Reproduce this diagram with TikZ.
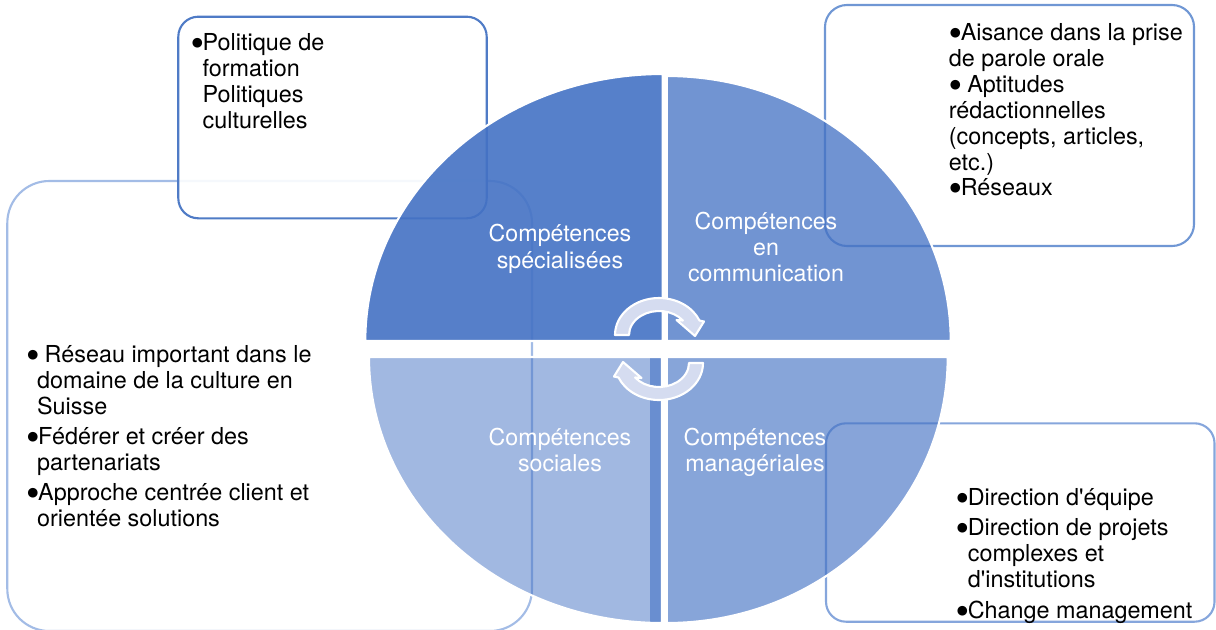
\documentclass[tikz,border=0pt]{standalone}
\usepackage{fontspec}
\setmainfont{TeX Gyre Heros}
\newfontfamily\bulletfont{DejaVu Sans}
\newcommand\blt{\makebox[6.2pt][l]{\raisebox{1.9pt}{\bulletfont\fontsize{7.2}{9}\selectfont ●}}}

\definecolor{accent}{HTML}{4472C4}
\definecolor{lavender}{HTML}{D5DCF0}
\definecolor{tledge}{HTML}{4F7BC6}
\definecolor{tredge}{HTML}{7097D4}
\definecolor{leftedge}{HTML}{A3BCE6}
\definecolor{bredge}{HTML}{86A6DC}

\tikzset{
  textbox/.style={line width=1.2pt, fill=white},
  quarter/.style={fill=accent, draw=white, line width=1.2pt},
  qlabel/.style={text=white, font=\fontsize{13.2}{15}\selectfont, anchor=base, inner sep=0pt},
  itemtext/.style={font=\fontsize{13.3}{15}\selectfont, anchor=base west, inner sep=0pt},
  arrowband/.style={fill=lavender, draw=white, line width=1.2pt, line join=round},
  pics/cyclearrow/.style={code={
    \filldraw[arrowband] (-30,0) -- (-44,0)
      arc[start angle=180, end angle=336.9, x radius=44, y radius=37]
      -- (45,-13.5) -- (36,1) -- (17.5,-15) -- (23.9,-14.5)
      arc[start angle=322.8, end angle=180, x radius=30, y radius=24] -- cycle;
  }}
}

\begin{document}
\begin{tikzpicture}[x=0.02cm, y=-0.02cm]
\useasboundingbox (0,0) rectangle (1216,629);

% boxes behind the quadrants
\draw[textbox, draw=leftedge, rounded corners=0.84cm] (7.3,181) rectangle (532,631);
\draw[textbox, draw=tledge, fill opacity=0.9, rounded corners=0.4cm] (178.3,16.7) rectangle (486.7,218.3);
\draw[textbox, draw=tredge, rounded corners=0.44cm] (825,5) rectangle (1194,246);
\draw[textbox, draw=bredge, rounded corners=0.4cm] (826,423.3) rectangle (1214.5,621.7);

% quadrants
\path[quarter, fill opacity=0.9] (662.7,341) -- (365.3,341)
  arc[start angle=180, end angle=270, x radius=297.4, y radius=267] -- cycle;
\path[quarter, fill opacity=0.76] (666.7,341) -- (666.7,76)
  arc[start angle=270, end angle=360, x radius=284, y radius=265] -- cycle;
\path[quarter, fill opacity=0.64] (666.7,357) -- (947.7,357)
  arc[start angle=0, end angle=90, x radius=281, y radius=266] -- cycle;
\fill[accent, fill opacity=0.6] (650,358) rectangle (662,623);
\path[quarter, fill opacity=0.5] (662,357) -- (662,623)
  arc[start angle=90, end angle=180, x radius=293, y radius=266] -- cycle;

% quadrant labels
\node[qlabel] (spec1) at (560,241) {Compétences};
\node[qlabel] (spec2) at (560,268) {spécialisées};
\node[qlabel] (comm1) at (766,229) {Compétences};
\node[qlabel] (comm2) at (766,255) {en};
\node[qlabel] (comm3) at (766,281) {communication};
\node[qlabel] (soc1) at (560,445) {Compétences};
\node[qlabel] (soc2) at (560,471) {sociales};
\node[qlabel] (man1) at (755,445) {Compétences};
\node[qlabel] (man2) at (755,471) {managériales};

% cycle arrows
\pic at (659,335) {cyclearrow};
\pic[rotate=180] at (659,363) {cyclearrow};

% box texts
\foreach \x/\y/\t [count=\i] in {191.5/50/{\blt Politique de}, 202.3/76/{formation},
    202.3/102/{Politiques}, 202.3/128/{culturelles}}
  \node[itemtext] (tl-\i) at (\x,\y) {\t};

\foreach \x/\y/\t [count=\i] in {949.5/40/{\blt Aisance dans la prise}, 948.5/66/{de parole orale},
    949.5/92/{\blt\ Aptitudes}, 948.5/118/{rédactionnelles}, 948.5/144/{(concepts, articles,},
    948.5/170/{etc.)}, 949.5/195/{\blt Réseaux}}
  \node[itemtext] (tr-\i) at (\x,\y) {\t};

\foreach \x/\y/\t [count=\i] in {27/362/{\blt\ Réseau important dans le}, 36.8/388/{domaine de la culture en},
    36.8/414/{Suisse}, 27/444/{\blt Fédérer et créer des}, 36.8/470/{partenariats},
    27/500/{\blt Approche centrée client et}, 36.8/526/{orientée solutions}}
  \node[itemtext] (left-\i) at (\x,\y) {\t};

\foreach \x/\y/\t [count=\i] in {956.5/505/{\blt Direction d\textquotesingle équipe},
    956.5/535/{\blt Direction de projets}, 967.5/561/{complexes et},
    967.5/587/{d\textquotesingle institutions}, 956.5/618/{\blt Change management}}
  \node[itemtext] (br-\i) at (\x,\y) {\t};

\end{tikzpicture}
\end{document}
